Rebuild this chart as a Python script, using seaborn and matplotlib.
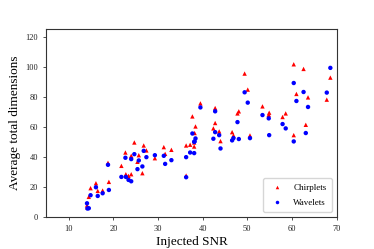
import matplotlib
matplotlib.use("Agg")
import matplotlib.pyplot as plt
import seaborn as sns
import pandas as pd

snr = [14.1, 14.5, 14.9, 16.1, 16.5, 17.6, 18.8, 19.0, 21.8, 22.7, 22.8, 23.4,
       24.0, 24.0, 24.7, 25.4, 25.7, 26.5, 26.8, 27.4, 29.3, 31.3, 31.6, 33.0,
       36.3, 36.3, 37.2, 37.7, 38.1, 38.2, 38.4, 39.5, 42.4, 42.8, 42.8, 43.7,
       44.0, 46.6, 46.9, 47.8, 48.1, 49.4, 50.1, 50.6, 53.4, 54.8, 54.9, 57.9,
       58.6, 60.4, 60.4, 61.0, 62.6, 63.1, 63.6, 67.8, 68.6, 14.2, 38.1]

chirplets = [7.5, 13.2, 19.0, 22.3, 17.2, 17.4, 35.9, 23.2, 33.9, 42.8, 28.3, 27.2,
             28.3, 40.6, 49.5, 36.6, 41.0, 29.0, 47.5, 44.2, 39.0, 46.4, 41.9, 44.6,
             47.5, 27.4, 48.0, 66.9, 49.5, 55.8, 60.2, 75.6, 58.9, 62.5, 72.5, 56.9,
             50.4, 56.4, 54.2, 68.9, 70.3, 95.5, 84.8, 54.2, 73.6, 68.0, 69.4, 66.5,
             68.9, 101.7, 54.4, 81.9, 98.6, 61.3, 79.6, 78.1, 92.8, 6.2, 46.8]

wavelets = [8.9, 5.6, 14.3, 19.6, 13.8, 15.6, 34.6, 17.8, 26.5, 39.3, 26.5, 24.5,
            23.6, 38.4, 41.7, 31.7, 37.5, 33.5, 43.9, 39.7, 41.0, 40.6, 35.2, 37.7,
            39.7, 26.3, 42.8, 55.5, 42.4, 50.2, 52.2, 72.9, 52.0, 56.4, 70.3, 54.4,
            45.5, 50.9, 52.4, 63.1, 51.8, 83.0, 76.1, 52.4, 67.8, 65.6, 54.4, 61.8,
            58.9, 89.2, 50.2, 77.2, 83.2, 55.8, 73.2, 82.8, 99.3, 5.4, 49.9]

df = pd.DataFrame({
    "snr": snr + snr,
    "dims": chirplets + wavelets,
    "method": ["Chirplets"] * len(snr) + ["Wavelets"] * len(snr),
})

plt.rcParams["font.family"] = ["Liberation Serif", "DejaVu Serif"]

fig = plt.figure(figsize=(3.74, 2.49), dpi=100)
ax = fig.add_axes([0.124, 0.13, 0.776, 0.752])

sns.scatterplot(
    data=df, x="snr", y="dims", hue="method", style="method",
    palette={"Chirplets": "red", "Wavelets": "blue"},
    markers={"Chirplets": "^", "Wavelets": "o"},
    s=10, linewidth=0, ax=ax
)

ax.set_xlim(5, 70)
ax.set_ylim(0, 125)
ax.set_xticks(range(10, 71, 10))
ax.set_yticks(range(0, 121, 20))
ax.tick_params(labelsize=6, length=2.5, width=0.6, color="#333333", labelcolor="#222222")
for sp in ax.spines.values():
    sp.set_color("#333333")
    sp.set_linewidth(0.8)

ax.set_xlabel("Injected SNR", fontsize=9.5, labelpad=2)
ax.set_ylabel("Average total dimensions", fontsize=9.5, labelpad=3)

leg = ax.legend(loc="lower right", fontsize=6.5, markerscale=0.8,
                handletextpad=0.8, borderpad=0.6, labelspacing=0.7)
leg.set_title(None)

fig.savefig("out.png", dpi=100)
